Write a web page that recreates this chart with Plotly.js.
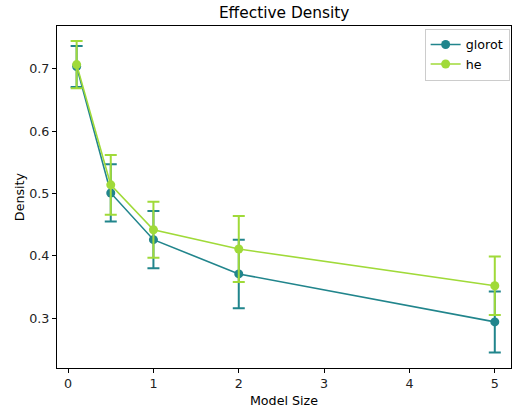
<!DOCTYPE html>
<html><head><meta charset="utf-8">
<script src="https://cdn.plot.ly/plotly-3.0.1.min.js"></script>
<style>html,body{margin:0;padding:0;background:#fff}#chart{width:512px;height:409px}</style>
</head><body><div id="chart"></div>
<script>
const modelSizes = [0.1, 0.5, 1, 2, 5];
const glorotMean = [0.704, 0.501, 0.426, 0.371, 0.294];
const glorotErr  = [0.033, 0.046, 0.046, 0.055, 0.049];
const heMean     = [0.707, 0.514, 0.442, 0.411, 0.352];
const heErr      = [0.038, 0.048, 0.045, 0.053, 0.047];
const seriesNames = ['glorot', 'he'];
const colors = ['#21858c', '#a0da39'];

function trace(name, y, e, c) {
  return {
    x: modelSizes, y: y, name: name, type: 'scatter', mode: 'lines+markers',
    line: {color: c, width: 1.6}, marker: {color: c, size: 9},
    error_y: {type: 'data', array: e, visible: true, color: c, thickness: 2, width: 6}
  };
}
const data = [
  trace(seriesNames[0], glorotMean, glorotErr, colors[0]),
  trace(seriesNames[1], heMean, heErr, colors[1])
];
const axisBase = {
  showline: true, mirror: true, linecolor: '#000', linewidth: 1,
  ticks: 'outside', ticklen: 4, tickcolor: '#000', showgrid: false, zeroline: false,
  tickfont: {family: 'DejaVu Sans', size: 12.7, color: '#222'}
};
const layout = {
  width: 512, height: 409,
  margin: {l: 57, r: 1, t: 26, b: 41},
  paper_bgcolor: '#fff', plot_bgcolor: '#fff',
  font: {family: 'DejaVu Sans', color: '#000'},
  title: {text: 'Effective Density', font: {size: 15.4, family: 'DejaVu Sans', color: '#000'}, x: 0.555, xanchor: 'center', y: 0.97, yanchor: 'middle'},
  xaxis: Object.assign({}, axisBase, {range: [-0.13, 5.19], tickvals: [0,1,2,3,4,5],
    title: {text: 'Model Size', font: {size: 12.7, family: 'DejaVu Sans'}, standoff: 5}}),
  yaxis: Object.assign({}, axisBase, {range: [0.22, 0.769], tickvals: [0.3,0.4,0.5,0.6,0.7], tickformat: '.1f',
    title: {text: 'Density', font: {size: 12.7, family: 'DejaVu Sans'}, standoff: 1}}),
  showlegend: true,
  legend: {x: 0.997, y: 0.992, xanchor: 'right', yanchor: 'top', bgcolor: 'rgba(255,255,255,0.8)',
    bordercolor: '#ccc', borderwidth: 1, font: {size: 12.7, family: 'DejaVu Sans'}, tracegroupgap: 0}
};
Plotly.newPlot('chart', data, layout, {staticPlot: true, displayModeBar: false});
</script></body></html>
